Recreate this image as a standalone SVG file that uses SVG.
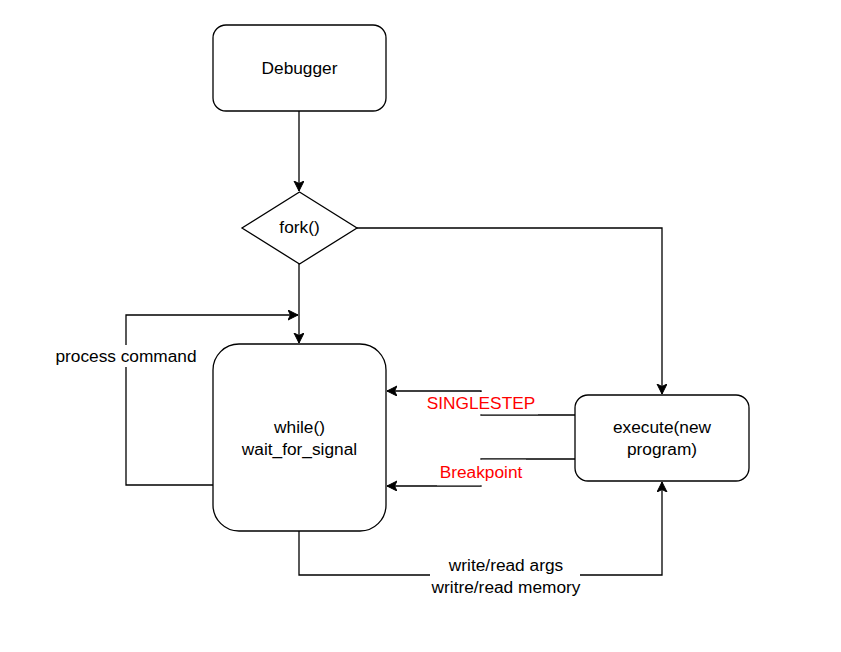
<svg xmlns="http://www.w3.org/2000/svg" width="841" height="652" viewBox="0 0 841 652">
<defs>
<marker id="arr" markerUnits="userSpaceOnUse" markerWidth="12" markerHeight="12" refX="10" refY="5" orient="auto">
<path d="M0,0 L10,5 L0,10 L2.5,5 z" fill="#000" stroke="#000" stroke-width="1"/>
</marker>
<style>
.box{fill:#fff;stroke:#000;stroke-width:1.3}
.edge{fill:none;stroke:#000;stroke-width:1.3}
.t{font-family:"Liberation Sans",Arial,sans-serif;font-size:17.3px;fill:#000;text-anchor:middle}
.red{fill:#ff0000}
.bg{fill:#fff}
</style>
</defs>
<rect width="841" height="652" fill="#fff"/>
<g id="connectors">
<path class="edge" d="M299,111 L299,191" marker-end="url(#arr)"/>
<path class="edge" d="M299,264 L299,343" marker-end="url(#arr)"/>
<path class="edge" d="M357,228 L662,228 L662,394" marker-end="url(#arr)"/>
<path class="edge" d="M213,485 L126,485 L126,315 L298,315" marker-end="url(#arr)"/>
<path class="edge" d="M575,415 L481,415 L481,391 L387,391" marker-end="url(#arr)"/>
<path class="edge" d="M575,459 L481,459 L481,486 L387,486" marker-end="url(#arr)"/>
<path class="edge" d="M299,531 L299,575 L662,575 L662,482" marker-end="url(#arr)"/>
<rect class="bg" x="54" y="345" width="144" height="22"/>
<text class="t" x="126" y="362">process command</text>
<rect class="bg" x="424" y="392" width="114" height="22.3"/>
<text class="t red" x="481" y="409">SINGLESTEP</text>
<rect class="bg" x="437" y="459.7" width="89" height="25.6"/>
<text class="t red" x="481" y="478">Breakpoint</text>
<rect class="bg" x="430" y="556" width="150" height="42"/>
<text class="t" x="506" y="571">write/read args</text>
<text class="t" x="506" y="593">writre/read memory</text>
</g>
<g id="debugger">
<rect class="box" x="213" y="25" width="173" height="86" rx="13" ry="13"/>
<text class="t" x="299.5" y="74">Debugger</text>
</g>
<g id="fork">
<polygon class="box" points="299.5,192 357,228 299.5,264 242,228"/>
<text class="t" x="299.5" y="233">fork()</text>
</g>
<g id="while">
<rect class="box" x="213" y="344" width="173" height="187" rx="26" ry="26"/>
<text class="t" x="299.5" y="433">while()</text>
<text class="t" x="299.5" y="455">wait_for_signal</text>
</g>
<g id="execute">
<rect class="box" x="575" y="395" width="174" height="86" rx="13" ry="13"/>
<text class="t" x="662" y="433">execute(new</text>
<text class="t" x="662" y="455">program)</text>
</g>
</svg>
